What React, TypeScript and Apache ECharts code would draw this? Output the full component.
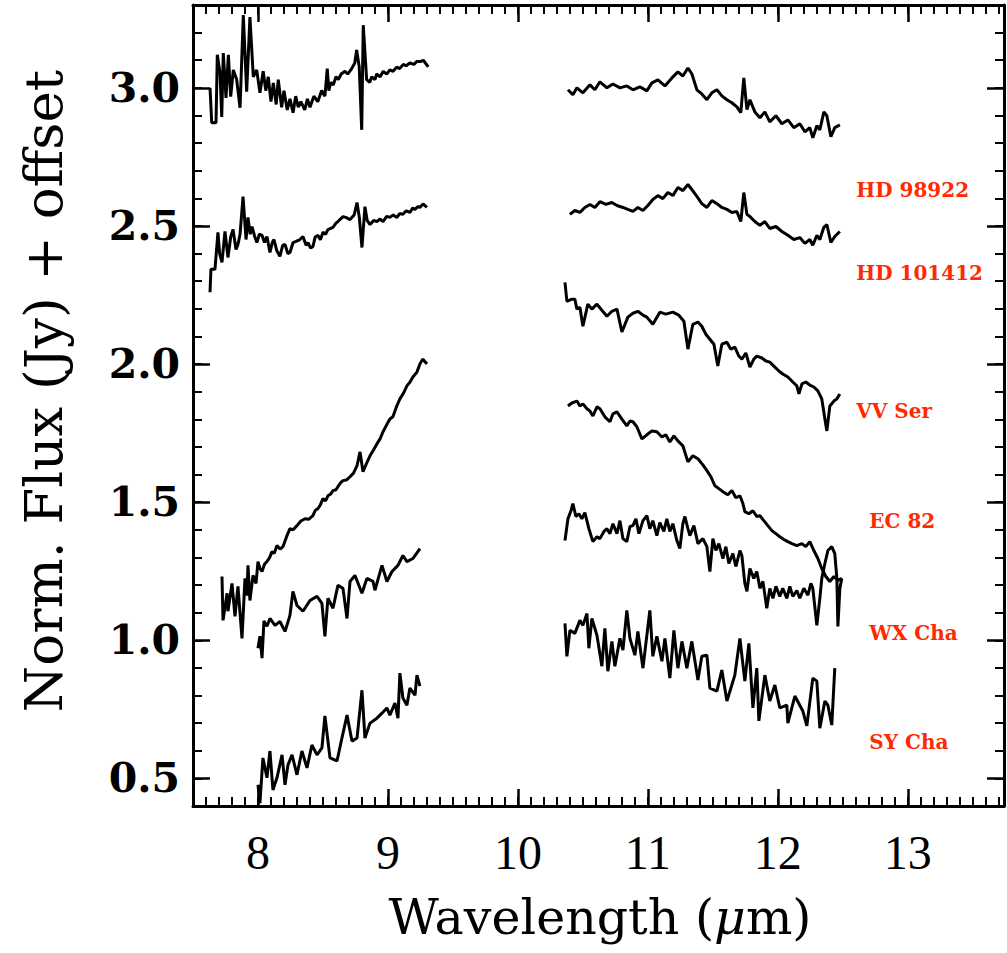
import React, { useEffect, useRef } from 'react';
import * as echarts from 'echarts';

// ---- axis settings ----
const X_MIN = 7.5;
const X_MAX = 13.74;
const Y_MIN = 0.4;
const Y_MAX = 3.3;
const X_MAJOR = [8, 9, 10, 11, 12, 13];
const Y_MAJOR = [0.5, 1.0, 1.5, 2.0, 2.5, 3.0];

const makeMinor = (lo: number, hi: number) => {
  const out: number[] = [];
  for (let i = Math.round(lo * 10); i <= Math.round(hi * 10); i++) out.push(i / 10);
  return out;
};
const X_MINOR = makeMinor(7.5, 13.7);
const Y_MINOR = makeMinor(0.4, 3.3);

// ---- star names and label anchors (wavelength, flux) ----
const STARS = ['HD 98922', 'HD 101412', 'VV Ser', 'EC 82', 'WX Cha', 'SY Cha'];
const LABEL_ANCHORS = [
  [12.6, 2.631],
  [12.6, 2.331],
  [12.6, 1.831],
  [12.7, 1.433],
  [12.7, 1.028],
  [12.7, 0.63],
];

// ---- spectra: [wavelength (um), normalised flux + offset] ----
const HD98922_L = [
  [7.631, 3.0], [7.644, 2.874], [7.677, 2.874], [7.687, 3.12], [7.708, 3.054], [7.721, 2.895],
  [7.733, 3.126], [7.754, 2.964], [7.772, 3.12], [7.79, 2.968], [7.81, 3.065], [7.836, 3.03],
  [7.862, 2.928], [7.887, 3.264], [7.913, 2.986], [7.938, 3.256], [7.964, 3.04], [7.99, 3.065],
  [8.015, 2.982], [8.04, 3.06], [8.06, 2.99], [8.079, 3.04], [8.1, 2.95], [8.118, 3.018],
  [8.14, 2.94], [8.156, 3.03], [8.182, 2.93], [8.2, 2.99], [8.225, 2.92], [8.246, 2.96],
  [8.27, 2.91], [8.29, 2.97], [8.31, 2.93], [8.33, 2.95], [8.36, 2.92], [8.38, 2.96],
  [8.4, 2.93], [8.43, 2.97], [8.46, 2.95], [8.49, 2.99], [8.515, 2.97], [8.533, 3.07],
  [8.545, 2.99], [8.56, 3.02], [8.579, 3.01], [8.6, 3.04], [8.618, 3.03], [8.64, 3.05],
  [8.669, 3.06], [8.69, 3.05], [8.721, 3.07], [8.745, 3.09], [8.759, 3.137], [8.779, 3.076],
  [8.798, 2.848], [8.81, 3.227], [8.836, 3.03], [8.86, 3.02], [8.875, 3.04], [8.9, 3.03],
  [8.913, 3.05], [8.94, 3.04], [8.964, 3.06], [8.99, 3.05], [9.015, 3.065], [9.04, 3.06],
  [9.067, 3.075], [9.09, 3.07], [9.118, 3.085], [9.14, 3.08], [9.169, 3.09], [9.2, 3.085],
  [9.221, 3.095], [9.25, 3.095], [9.272, 3.1], [9.31, 3.076],
];
const HD98922_R = [
  [10.385, 2.993], [10.423, 2.975], [10.454, 3.0], [10.5, 2.982], [10.554, 3.011], [10.592, 2.993],
  [10.631, 3.022], [10.685, 3.0], [10.731, 3.014], [10.785, 3.0], [10.838, 3.007], [10.885, 2.993],
  [10.938, 3.004], [10.992, 2.989], [11.031, 3.018], [11.077, 3.029], [11.131, 3.007], [11.185, 3.036],
  [11.231, 3.058], [11.269, 3.043], [11.308, 3.072], [11.338, 3.051], [11.377, 2.993], [11.415, 2.978],
  [11.454, 2.957], [11.492, 2.982], [11.531, 2.993], [11.569, 2.971], [11.608, 2.957], [11.646, 2.946],
  [11.685, 2.931], [11.715, 2.91], [11.738, 3.036], [11.762, 2.921], [11.785, 2.957], [11.823, 2.913],
  [11.862, 2.892], [11.9, 2.913], [11.938, 2.877], [11.985, 2.899], [12.031, 2.87], [12.077, 2.884],
  [12.123, 2.856], [12.169, 2.87], [12.208, 2.841], [12.246, 2.856], [12.269, 2.819], [12.3, 2.863],
  [12.323, 2.848], [12.354, 2.913], [12.377, 2.899], [12.408, 2.823], [12.438, 2.856], [12.477, 2.866],
];
const HD101412_L = [
  [7.631, 2.26], [7.638, 2.343], [7.669, 2.343], [7.692, 2.477], [7.705, 2.4], [7.723, 2.368],
  [7.746, 2.48], [7.769, 2.386], [7.79, 2.46], [7.808, 2.487], [7.831, 2.415], [7.846, 2.433],
  [7.862, 2.47], [7.885, 2.606], [7.908, 2.451], [7.923, 2.531], [7.94, 2.47], [7.954, 2.498],
  [7.977, 2.458], [7.992, 2.44], [8.01, 2.47], [8.031, 2.466], [8.05, 2.44], [8.069, 2.462],
  [8.092, 2.404], [8.11, 2.44], [8.123, 2.451], [8.145, 2.41], [8.169, 2.39], [8.19, 2.43],
  [8.208, 2.433], [8.23, 2.4], [8.246, 2.404], [8.27, 2.44], [8.292, 2.444], [8.32, 2.45],
  [8.346, 2.462], [8.37, 2.43], [8.385, 2.44], [8.405, 2.42], [8.423, 2.426], [8.44, 2.46],
  [8.462, 2.466], [8.48, 2.45], [8.5, 2.477], [8.52, 2.47], [8.538, 2.487], [8.577, 2.495],
  [8.6, 2.51], [8.615, 2.516], [8.654, 2.534], [8.68, 2.53], [8.708, 2.523], [8.74, 2.54],
  [8.762, 2.585], [8.78, 2.53], [8.8, 2.422], [8.823, 2.57], [8.84, 2.52], [8.862, 2.505],
  [8.89, 2.52], [8.915, 2.516], [8.94, 2.525], [8.962, 2.516], [8.99, 2.535], [9.015, 2.531],
  [9.04, 2.54], [9.069, 2.531], [9.09, 2.545], [9.115, 2.542], [9.14, 2.555], [9.169, 2.549],
  [9.19, 2.565], [9.208, 2.56], [9.23, 2.57], [9.246, 2.567], [9.27, 2.58], [9.3, 2.567],
];
const HD101412_R = [
  [10.4, 2.542], [10.438, 2.556], [10.477, 2.549], [10.515, 2.567], [10.554, 2.578], [10.592, 2.567],
  [10.631, 2.588], [10.677, 2.578], [10.723, 2.585], [10.762, 2.574], [10.808, 2.567], [10.846, 2.56],
  [10.885, 2.553], [10.923, 2.567], [10.962, 2.556], [11.0, 2.574], [11.038, 2.596], [11.077, 2.61],
  [11.115, 2.599], [11.154, 2.621], [11.192, 2.61], [11.231, 2.639], [11.269, 2.628], [11.308, 2.65],
  [11.338, 2.632], [11.377, 2.607], [11.415, 2.581], [11.454, 2.567], [11.492, 2.592], [11.531, 2.581],
  [11.569, 2.567], [11.608, 2.56], [11.646, 2.549], [11.685, 2.552], [11.715, 2.516], [11.738, 2.621],
  [11.762, 2.542], [11.785, 2.534], [11.823, 2.516], [11.862, 2.502], [11.9, 2.516], [11.938, 2.491],
  [11.985, 2.498], [12.031, 2.48], [12.077, 2.466], [12.123, 2.451], [12.169, 2.458], [12.208, 2.437],
  [12.246, 2.451], [12.269, 2.43], [12.3, 2.466], [12.323, 2.451], [12.354, 2.495], [12.377, 2.505],
  [12.408, 2.44], [12.438, 2.462], [12.477, 2.48],
];
const VVSER_L = [
  [7.723, 1.231], [7.731, 1.072], [7.762, 1.17], [7.769, 1.105], [7.8, 1.206], [7.823, 1.087],
  [7.846, 1.195], [7.877, 1.007], [7.9, 1.224], [7.915, 1.162], [7.923, 1.271], [7.938, 1.144],
  [7.962, 1.235], [7.985, 1.206], [8.0, 1.285], [8.015, 1.26], [8.031, 1.249], [8.05, 1.275],
  [8.069, 1.285], [8.09, 1.3], [8.108, 1.321], [8.125, 1.315], [8.146, 1.343], [8.17, 1.33],
  [8.192, 1.339], [8.22, 1.375], [8.246, 1.404], [8.27, 1.4], [8.3, 1.415], [8.33, 1.432],
  [8.362, 1.44], [8.39, 1.438], [8.423, 1.451], [8.44, 1.47], [8.462, 1.477], [8.48, 1.49],
  [8.5, 1.513], [8.52, 1.505], [8.538, 1.523], [8.56, 1.53], [8.577, 1.542], [8.6, 1.545],
  [8.615, 1.556], [8.635, 1.57], [8.654, 1.578], [8.68, 1.58], [8.708, 1.592], [8.735, 1.605],
  [8.762, 1.632], [8.785, 1.682], [8.808, 1.61], [8.835, 1.64], [8.862, 1.668], [8.89, 1.69],
  [8.915, 1.711], [8.94, 1.73], [8.962, 1.755], [8.99, 1.78], [9.015, 1.801], [9.038, 1.809],
  [9.065, 1.845], [9.092, 1.874], [9.12, 1.895], [9.146, 1.921], [9.17, 1.935], [9.192, 1.953],
  [9.223, 1.971], [9.246, 2.0], [9.269, 2.018], [9.3, 2.0],
];
const VVSER_R = [
  [10.362, 2.296], [10.377, 2.227], [10.415, 2.235], [10.438, 2.235], [10.454, 2.199], [10.477, 2.206],
  [10.5, 2.137], [10.538, 2.217], [10.569, 2.199], [10.608, 2.217], [10.646, 2.195], [10.685, 2.173],
  [10.723, 2.191], [10.762, 2.199], [10.8, 2.116], [10.846, 2.17], [10.885, 2.184], [10.923, 2.191],
  [10.962, 2.177], [10.992, 2.17], [11.038, 2.144], [11.092, 2.188], [11.138, 2.181], [11.192, 2.188],
  [11.238, 2.177], [11.277, 2.155], [11.308, 2.054], [11.346, 2.144], [11.385, 2.152], [11.415, 2.137],
  [11.446, 2.108], [11.477, 2.09], [11.508, 2.072], [11.538, 1.993], [11.569, 2.072], [11.608, 2.079],
  [11.638, 2.054], [11.669, 2.061], [11.7, 2.029], [11.723, 2.018], [11.754, 2.04], [11.785, 1.989],
  [11.815, 2.018], [11.838, 2.029], [11.877, 2.022], [11.908, 2.011], [11.938, 2.007], [11.977, 1.989],
  [12.008, 1.975], [12.038, 1.964], [12.077, 1.953], [12.115, 1.935], [12.146, 1.921], [12.162, 1.892],
  [12.185, 1.928], [12.215, 1.935], [12.246, 1.924], [12.277, 1.917], [12.308, 1.903], [12.338, 1.874],
  [12.362, 1.801], [12.377, 1.758], [12.4, 1.848], [12.431, 1.866], [12.454, 1.874], [12.477, 1.892],
];
const EC82_R = [
  [10.385, 1.848], [10.415, 1.859], [10.454, 1.866], [10.477, 1.848], [10.5, 1.856], [10.531, 1.838],
  [10.554, 1.83], [10.577, 1.812], [10.608, 1.845], [10.631, 1.838], [10.669, 1.809], [10.708, 1.791],
  [10.731, 1.82], [10.762, 1.827], [10.8, 1.801], [10.838, 1.776], [10.862, 1.794], [10.885, 1.791],
  [10.915, 1.773], [10.954, 1.729], [10.992, 1.744], [11.031, 1.758], [11.069, 1.755], [11.108, 1.736],
  [11.138, 1.744], [11.169, 1.718], [11.2, 1.74], [11.231, 1.722], [11.269, 1.704], [11.308, 1.646],
  [11.346, 1.668], [11.385, 1.657], [11.423, 1.635], [11.454, 1.614], [11.485, 1.592], [11.515, 1.56],
  [11.546, 1.549], [11.577, 1.538], [11.615, 1.527], [11.646, 1.542], [11.677, 1.516], [11.708, 1.523],
  [11.731, 1.495], [11.746, 1.466], [11.777, 1.458], [11.808, 1.469], [11.838, 1.448], [11.862, 1.451],
  [11.892, 1.433], [11.923, 1.415], [11.954, 1.397], [11.985, 1.386], [12.015, 1.375], [12.046, 1.365],
  [12.077, 1.357], [12.108, 1.35], [12.146, 1.343], [12.185, 1.35], [12.215, 1.339], [12.246, 1.357],
  [12.277, 1.325], [12.308, 1.296], [12.338, 1.26], [12.369, 1.231], [12.4, 1.213], [12.431, 1.231],
  [12.462, 1.217], [12.492, 1.224],
];
const WXCHA_L = [
  [8.0, 0.971], [8.015, 1.015], [8.031, 0.935], [8.046, 1.07], [8.069, 1.051], [8.092, 1.079],
  [8.131, 1.054], [8.169, 1.068], [8.208, 1.032], [8.246, 1.09], [8.269, 1.177], [8.3, 1.126],
  [8.346, 1.105], [8.4, 1.144], [8.454, 1.159], [8.492, 1.134], [8.515, 1.014], [8.538, 1.152],
  [8.577, 1.116], [8.615, 1.199], [8.654, 1.188], [8.685, 1.079], [8.708, 1.213], [8.746, 1.235],
  [8.8, 1.17], [8.838, 1.224], [8.885, 1.213], [8.9, 1.181], [8.954, 1.271], [8.992, 1.213],
  [9.031, 1.249], [9.077, 1.271], [9.115, 1.307], [9.146, 1.285], [9.192, 1.296], [9.246, 1.332],
];
const WXCHA_R = [
  [10.362, 1.361], [10.385, 1.44], [10.408, 1.469], [10.423, 1.495], [10.446, 1.448], [10.469, 1.458],
  [10.492, 1.44], [10.515, 1.462], [10.546, 1.404], [10.577, 1.357], [10.608, 1.375], [10.631, 1.368],
  [10.662, 1.394], [10.685, 1.404], [10.708, 1.386], [10.731, 1.422], [10.762, 1.386], [10.785, 1.433],
  [10.808, 1.368], [10.838, 1.357], [10.862, 1.412], [10.885, 1.415], [10.908, 1.44], [10.931, 1.386],
  [10.962, 1.433], [10.992, 1.451], [11.015, 1.404], [11.038, 1.433], [11.069, 1.379], [11.092, 1.426],
  [11.123, 1.394], [11.146, 1.44], [11.169, 1.394], [11.192, 1.422], [11.223, 1.361], [11.246, 1.332],
  [11.269, 1.422], [11.285, 1.448], [11.308, 1.404], [11.323, 1.379], [11.354, 1.415], [11.385, 1.35],
  [11.423, 1.368], [11.454, 1.339], [11.477, 1.249], [11.5, 1.368], [11.523, 1.325], [11.546, 1.35],
  [11.577, 1.296], [11.6, 1.339], [11.623, 1.278], [11.654, 1.314], [11.677, 1.267], [11.708, 1.325],
  [11.723, 1.307], [11.746, 1.206], [11.762, 1.177], [11.785, 1.26], [11.815, 1.224], [11.838, 1.249],
  [11.862, 1.188], [11.885, 1.213], [11.915, 1.116], [11.938, 1.188], [11.962, 1.152], [11.985, 1.195],
  [12.015, 1.159], [12.038, 1.188], [12.069, 1.152], [12.092, 1.195], [12.115, 1.159], [12.146, 1.18],
  [12.169, 1.152], [12.2, 1.188], [12.231, 1.163], [12.254, 1.206], [12.269, 1.188], [12.3, 1.054],
  [12.323, 1.152], [12.338, 1.224], [12.362, 1.278], [12.385, 1.325], [12.415, 1.339], [12.438, 1.314],
  [12.454, 1.224], [12.462, 1.05], [12.477, 1.188], [12.492, 1.224],
];
const SYCHA_L = [
  [8.0, 0.477], [8.015, 0.41], [8.038, 0.574], [8.069, 0.502], [8.092, 0.599], [8.115, 0.458],
  [8.146, 0.502], [8.185, 0.585], [8.208, 0.477], [8.231, 0.549], [8.262, 0.585], [8.3, 0.513],
  [8.338, 0.599], [8.377, 0.538], [8.415, 0.621], [8.454, 0.585], [8.492, 0.61], [8.515, 0.726],
  [8.554, 0.574], [8.608, 0.563], [8.646, 0.646], [8.685, 0.729], [8.723, 0.635], [8.762, 0.646],
  [8.8, 0.819], [8.823, 0.646], [8.862, 0.7], [8.915, 0.718], [8.954, 0.736], [8.992, 0.755],
  [9.015, 0.729], [9.054, 0.773], [9.077, 0.718], [9.092, 0.881], [9.115, 0.791], [9.146, 0.765],
  [9.169, 0.827], [9.208, 0.801], [9.223, 0.874], [9.246, 0.834],
];
const SYCHA_R = [
  [10.362, 1.061], [10.377, 0.942], [10.4, 1.036], [10.438, 1.025], [10.477, 1.072], [10.5, 1.054],
  [10.531, 1.097], [10.546, 0.971], [10.569, 1.079], [10.608, 1.018], [10.646, 0.906], [10.669, 1.043],
  [10.692, 0.888], [10.723, 0.996], [10.746, 0.906], [10.785, 1.007], [10.808, 0.964], [10.838, 1.108],
  [10.862, 1.007], [10.9, 0.946], [10.923, 1.032], [10.962, 0.899], [11.015, 1.108], [11.038, 0.942],
  [11.069, 1.014], [11.108, 0.924], [11.131, 1.007], [11.169, 0.863], [11.2, 1.036], [11.231, 0.899],
  [11.262, 0.996], [11.3, 0.899], [11.338, 0.996], [11.385, 0.856], [11.415, 0.942], [11.454, 0.946],
  [11.477, 0.827], [11.531, 0.816], [11.569, 0.892], [11.608, 0.78], [11.646, 0.838], [11.669, 0.874],
  [11.708, 1.007], [11.746, 0.852], [11.777, 0.989], [11.808, 0.755], [11.838, 0.899], [11.854, 0.708],
  [11.9, 0.874], [11.938, 0.78], [11.977, 0.838], [12.015, 0.755], [12.069, 0.765], [12.077, 0.7],
  [12.131, 0.798], [12.192, 0.744], [12.223, 0.69], [12.269, 0.863], [12.3, 0.852], [12.323, 0.682],
  [12.362, 0.78], [12.385, 0.765], [12.415, 0.693], [12.438, 0.899],
];

const SEGMENTS: [string, number[][]][] = [
  ['HD 98922', HD98922_L], ['HD 98922', HD98922_R],
  ['HD 101412', HD101412_L], ['HD 101412', HD101412_R],
  ['VV Ser', VVSER_L], ['VV Ser', VVSER_R],
  ['EC 82', EC82_R],
  ['WX Cha', WXCHA_L], ['WX Cha', WXCHA_R],
  ['SY Cha', SYCHA_L], ['SY Cha', SYCHA_R],
];

const BLACK = '#000000';
const RED = '#ff2a00';

function buildOption() {
  const lineCommon = { color: BLACK, width: 3 };
  const tickMajor = { color: BLACK, width: 2.5 };
  const tickMinor = { color: BLACK, width: 2 };
  const xBase = {
    type: 'value', min: X_MIN, max: X_MAX, splitLine: { show: false },
  };
  const yBase = {
    type: 'value', min: Y_MIN, max: Y_MAX, splitLine: { show: false },
  };
  const xAxis = [
    {
      ...xBase, position: 'bottom',
      axisLine: { show: true, onZero: false, lineStyle: lineCommon },
      axisTick: { show: true, inside: true, length: 17, customValues: X_MAJOR, lineStyle: tickMajor },
      axisLabel: {
        show: true, customValues: X_MAJOR, margin: 22, color: BLACK,
        fontFamily: 'Liberation Serif', fontSize: 48,
        formatter: (v: number) => String(v),
      },
    },
    {
      ...xBase, position: 'bottom',
      axisLine: { show: false },
      axisTick: { show: true, inside: true, length: 9, customValues: X_MINOR, lineStyle: tickMinor },
      axisLabel: { show: false },
    },
    {
      ...xBase, position: 'top',
      axisLine: { show: true, onZero: false, lineStyle: lineCommon },
      axisTick: { show: true, inside: true, length: 17, customValues: X_MAJOR, lineStyle: tickMajor },
      axisLabel: { show: false },
    },
    {
      ...xBase, position: 'top',
      axisLine: { show: false },
      axisTick: { show: true, inside: true, length: 9, customValues: X_MINOR, lineStyle: tickMinor },
      axisLabel: { show: false },
    },
  ];
  const yAxis = [
    {
      ...yBase, position: 'left',
      axisLine: { show: true, onZero: false, lineStyle: lineCommon },
      axisTick: { show: true, inside: true, length: 17, customValues: Y_MAJOR, lineStyle: tickMajor },
      axisLabel: {
        show: true, customValues: Y_MAJOR, margin: 13, color: BLACK,
        fontFamily: 'DejaVu Serif', fontWeight: 'bold', fontSize: 41,
        formatter: (v: number) => v.toFixed(1),
      },
    },
    {
      ...yBase, position: 'left',
      axisLine: { show: false },
      axisTick: { show: true, inside: true, length: 9, customValues: Y_MINOR, lineStyle: tickMinor },
      axisLabel: { show: false },
    },
    {
      ...yBase, position: 'right',
      axisLine: { show: true, onZero: false, lineStyle: lineCommon },
      axisTick: { show: true, inside: true, length: 17, customValues: Y_MAJOR, lineStyle: tickMajor },
      axisLabel: { show: false },
    },
    {
      ...yBase, position: 'right',
      axisLine: { show: false },
      axisTick: { show: true, inside: true, length: 9, customValues: Y_MINOR, lineStyle: tickMinor },
      axisLabel: { show: false },
    },
  ];

  const lineSeries = SEGMENTS.map(([name, data]) => ({
    type: 'line',
    name,
    data,
    xAxisIndex: 0,
    yAxisIndex: 0,
    showSymbol: false,
    symbol: 'none',
    clip: true,
    lineStyle: { color: BLACK, width: 3 },
    emphasis: { disabled: true },
  }));

  const labelSeries = {
    type: 'scatter',
    xAxisIndex: 0,
    yAxisIndex: 0,
    symbolSize: 1,
    itemStyle: { color: 'rgba(0,0,0,0)', opacity: 1 },
    silent: true,
    data: STARS.map((s, i) => [LABEL_ANCHORS[i][0], LABEL_ANCHORS[i][1], s]),
    label: {
      show: true,
      position: 'right',
      distance: 0,
      opacity: 1,
      formatter: (p: any) => p.data[2],
      color: RED,
      fontFamily: 'DejaVu Serif',
      fontWeight: 'bold',
      fontSize: 20,
    },
  };

  return {
    animation: false,
    backgroundColor: '#ffffff',
    grid: { left: 193, right: 3, top: 5, bottom: 147, containLabel: false },
    xAxis,
    yAxis,
    series: [...lineSeries, labelSeries],
    graphic: [
      {
        type: 'text',
        x: 43,
        y: 391,
        rotation: Math.PI / 2,
        style: {
          text: 'Norm. Flux (Jy) + offset',
          fill: BLACK,
          font: '53px "DejaVu Serif"',
          textAlign: 'center',
          textVerticalAlign: 'middle',
        },
      },
      {
        type: 'text',
        x: 600,
        y: 917,
        style: {
          text: 'Wavelength ({i|μ}m)',
          fill: BLACK,
          font: '49px "DejaVu Serif"',
          textAlign: 'center',
          textVerticalAlign: 'middle',
          rich: {
            i: { fontFamily: 'DejaVu Serif', fontStyle: 'italic', fontSize: 49, fill: BLACK },
          },
        },
      },
    ],
  };
}

export default function App() {
  const ref = useRef<HTMLDivElement>(null);
  useEffect(() => {
    if (!ref.current) return;
    const chart = echarts.init(ref.current, null, { renderer: 'svg' });
    chart.setOption(buildOption() as any);
    return () => chart.dispose();
  }, []);
  return (
    <div
      ref={ref}
      style={{ position: 'absolute', left: 0, top: 0, width: 1007, height: 953, background: '#fff' }}
    />
  );
}
